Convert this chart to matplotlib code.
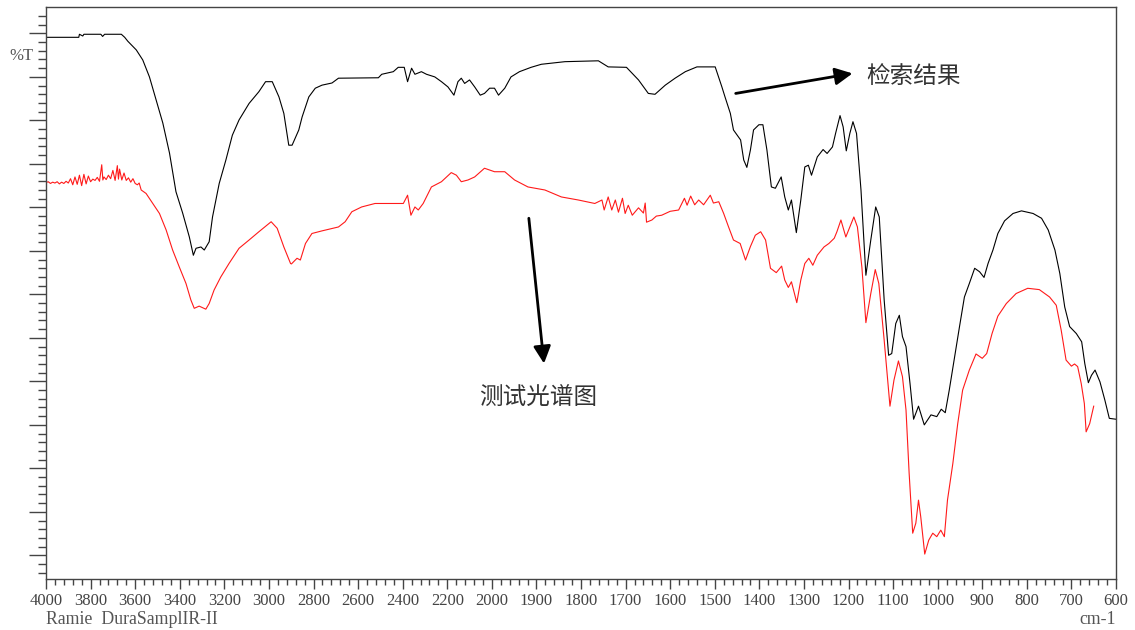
import numpy as np
import matplotlib
matplotlib.use("Agg")
import matplotlib.pyplot as plt
from matplotlib.ticker import FixedLocator, NullFormatter

# ---------------- data (wavenumber cm-1, %T-like units) ----------------
ref_wn = [3997, 3853, 3850, 3835, 3830, 3754, 3746, 3737, 3662, 3647, 3633, 3595, 3566, 3536,
          3506, 3476, 3446, 3417, 3387, 3357, 3339, 3327, 3305, 3290, 3268, 3253, 3223, 3193,
          3164, 3134, 3089, 3045, 3015, 2985, 2955, 2933, 2911, 2896, 2866, 2851, 2821, 2792,
          2762, 2717, 2688, 2509, 2494, 2442, 2420, 2393, 2378, 2360, 2345, 2316, 2293, 2256,
          2226, 2197, 2170, 2152, 2137, 2122, 2100, 2077, 2052, 2033, 2010, 1994, 1985, 1971,
          1957, 1938, 1912, 1889, 1836, 1761, 1739, 1698, 1671, 1649, 1634, 1611, 1589, 1566,
          1540, 1499, 1484, 1477, 1465, 1458, 1442, 1435, 1428, 1420, 1413, 1401, 1392, 1383,
          1373, 1364, 1351, 1343, 1335, 1328, 1317, 1307, 1298, 1290, 1283, 1270, 1257, 1248,
          1236, 1229, 1219, 1212, 1205, 1197, 1190, 1182, 1172, 1161, 1150, 1139, 1131, 1120,
          1110, 1103, 1094, 1086, 1079, 1071, 1062, 1054, 1043, 1030, 1015, 1002, 992, 983,
          974, 962, 951, 940, 929, 917, 906, 896, 887, 876, 865, 850, 831, 812, 786, 767, 752,
          737, 726, 715, 704, 689, 677, 670, 662, 655, 647, 636, 625, 615, 600]
ref_t = [119.1, 119.1, 119.8, 119.4, 119.8, 119.8, 119.3, 119.8, 119.8, 119.1, 118.2, 116.2,
         113.9, 110.0, 104.7, 99.4, 92.5, 83.6, 78.7, 73.2, 69.0, 70.6, 70.9, 70.2, 72.1, 77.8,
         85.5, 90.9, 96.6, 100.1, 103.9, 106.6, 108.9, 108.9, 105.4, 101.6, 94.3, 94.3, 97.8,
         100.8, 105.4, 107.4, 108.1, 108.6, 109.7, 109.8, 110.6, 111.2, 112.2, 112.2, 108.9,
         112.0, 110.6, 111.2, 110.6, 110.0, 108.9, 107.7, 105.8, 108.9, 109.7, 108.5, 109.3,
         107.7, 105.8, 106.2, 107.4, 107.4, 105.8, 107.4, 110.0, 111.2, 112.2, 112.9, 113.5,
         113.7, 112.3, 112.2, 109.3, 106.2, 106.0, 108.1, 109.7, 111.2, 112.3, 112.3, 107.7,
         105.4, 101.6, 97.8, 95.5, 90.9, 89.2, 93.2, 97.8, 99.0, 99.0, 93.2, 84.7, 84.4, 87.0,
         82.4, 79.4, 81.7, 74.2, 81.7, 89.3, 89.7, 87.4, 91.6, 93.3, 92.4, 93.9, 97.0, 101.1,
         98.5, 93.0, 97.0, 99.7, 97.0, 84.0, 64.4, 72.5, 80.1, 77.8, 58.7, 46.0, 46.4, 53.3,
         55.2, 50.3, 48.0, 39.5, 31.3, 34.3, 30.0, 32.3, 31.9, 33.6, 32.8, 38.0, 45.7, 52.6,
         59.4, 62.5, 66.0, 65.2, 63.9, 67.1, 70.2, 74.0, 76.9, 78.6, 79.2, 78.6, 77.5, 74.8,
         70.2, 64.8, 57.1, 52.6, 51.0, 49.1, 44.1, 39.7, 41.4, 42.6, 39.9, 35.7, 31.5, 31.3]

test_wn = [4000, 3990, 3980, 3970, 3960, 3950, 3940, 3930, 3920, 3910, 3900, 3890, 3880, 3870,
           3860, 3850, 3840, 3830, 3820, 3810, 3800, 3790, 3780, 3770, 3760, 3750, 3745, 3740,
           3730, 3720, 3710, 3700, 3690, 3680, 3675, 3670, 3660, 3650, 3640, 3630, 3620, 3610,
           3600, 3590, 3582, 3573, 3551, 3521, 3491, 3461, 3432, 3402, 3372, 3350, 3335, 3313,
           3283, 3268, 3246, 3216, 3179, 3134, 3089, 3045, 2990, 2963, 2933, 2903, 2899, 2874,
           2859, 2836, 2807, 2762, 2688, 2658, 2628, 2584, 2524, 2464, 2397, 2378, 2363, 2345,
           2330, 2308, 2271, 2226, 2182, 2159, 2137, 2107, 2077, 2033, 1994, 1971, 1949, 1919,
           1881, 1844, 1806, 1769, 1753, 1748, 1739, 1731, 1723, 1716, 1707, 1701, 1694, 1685,
           1671, 1660, 1656, 1653, 1641, 1631, 1619, 1600, 1581, 1568, 1562, 1554, 1545, 1536,
           1525, 1510, 1503, 1491, 1480, 1469, 1458, 1443, 1431, 1420, 1409, 1397, 1386, 1375,
           1362, 1350, 1343, 1335, 1328, 1316, 1307, 1298, 1289, 1280, 1270, 1255, 1244, 1232,
           1226, 1217, 1206, 1197, 1188, 1180, 1170, 1161, 1150, 1140, 1132, 1120, 1107, 1098,
           1088, 1079, 1071, 1064, 1056, 1049, 1043, 1038, 1029, 1020, 1011, 1002, 993, 985,
           978, 966, 955, 944, 929, 914, 900, 890, 878, 865, 846, 824, 798, 772, 749, 734, 723,
           712, 700, 693, 686, 678, 671, 667, 659, 650]
test_t = [85.7, 85.9, 85.5, 85.8, 85.6, 85.9, 85.4, 85.8, 85.5, 86.0, 85.6, 86.6, 85.2, 87.0,
          85.3, 87.4, 85.0, 87.6, 85.4, 87.2, 85.9, 86.5, 86.2, 86.9, 86.0, 89.8, 86.3, 87.0,
          86.4, 87.4, 86.6, 88.5, 86.2, 89.6, 86.5, 88.8, 86.3, 87.9, 86.2, 86.8, 85.8, 86.6,
          85.5, 85.2, 85.6, 84.0, 83.2, 80.9, 78.6, 74.8, 70.2, 66.3, 62.5, 58.7, 56.8, 57.3,
          56.6, 57.9, 61.0, 64.0, 67.1, 70.6, 72.5, 74.4, 76.7, 75.2, 70.9, 67.1, 67.0, 68.3,
          67.9, 71.7, 74.0, 74.6, 75.5, 76.7, 79.0, 80.1, 80.9, 80.9, 80.9, 82.8, 78.2, 80.1,
          79.4, 80.9, 84.7, 85.9, 88.0, 87.4, 85.9, 86.3, 87.0, 89.0, 88.2, 88.2, 86.3, 84.7,
          84.0, 82.4, 81.7, 80.9, 81.7, 79.4, 82.4, 79.4, 81.7, 78.9, 82.1, 78.6, 80.5, 78.2,
          79.9, 78.7, 81.0, 76.6, 77.1, 78.0, 78.2, 79.1, 79.4, 82.1, 80.5, 82.6, 80.6, 81.7,
          80.6, 82.8, 81.0, 81.3, 78.6, 75.5, 72.5, 71.7, 67.9, 71.0, 73.6, 74.4, 72.5, 66.0,
          65.0, 66.5, 63.3, 61.6, 62.9, 58.1, 63.3, 67.1, 68.3, 66.7, 69.0, 70.9, 71.7, 72.9,
          74.4, 77.1, 73.2, 75.5, 77.8, 75.5, 66.3, 53.5, 60.2, 65.7, 62.5, 49.5, 34.3, 40.3,
          44.7, 41.1, 33.4, 18.9, 5.1, 7.4, 12.7, 8.9, 0.3, 3.5, 5.1, 4.3, 5.8, 4.3,
          12.7, 21.1, 30.3, 38.0, 42.6, 46.3, 45.3, 46.4, 51.0, 55.0, 57.9, 60.2, 61.4, 61.1,
          59.4, 57.5, 51.8, 44.9, 43.5, 44.0, 43.4, 39.5, 34.9, 28.4, 30.3, 34.3]

x_major = [4000, 3800, 3600, 3400, 3200, 3000, 2800, 2600, 2400, 2200, 2000, 1900, 1800,
           1700, 1600, 1500, 1400, 1300, 1200, 1100, 1000, 900, 800, 700, 600]
x_labels = [str(v) for v in x_major]

label_ref = "检索结果"
label_test = "测试光谱图"

# ---------------- figure ----------------
W, H = 1135, 630
fig = plt.figure(figsize=(W / 100, H / 100), dpi=100)
ax = fig.add_axes([46 / W, (H - 579.3) / H, (1116 - 46) / W, (579.3 - 7.3) / H])


def fwd(x):
    x = np.asarray(x, dtype=float)
    return np.where(x > 2000, 2000 + (x - 2000) / 2.0, x)


def inv(y):
    y = np.asarray(y, dtype=float)
    return np.where(y > 2000, 2000 + 2.0 * (y - 2000), y)


ax.set_xscale('function', functions=(fwd, inv))

ax.plot(ref_wn, ref_t, color='black', lw=0.8)
ax.plot(test_wn, test_t, color='#ff1a1a', lw=0.8)

ax.set_xlim(4000, 600)
ax.set_ylim(-5.5, 126)

# x ticks
minor_x = list(range(4000, 2000, -40)) + list(range(2000, 599, -20))
ax.xaxis.set_major_locator(FixedLocator(x_major))
ax.xaxis.set_minor_locator(FixedLocator(minor_x))
ax.set_xticklabels(x_labels)
ax.xaxis.set_minor_formatter(NullFormatter())
ax.tick_params(axis='x', which='major', direction='out', length=7.2, width=1.0,
               color='#444444', pad=3, labelsize=12, labelcolor='#444444')
ax.tick_params(axis='x', which='minor', direction='out', length=4.6, width=1.0, color='#444444')
for lab in ax.get_xticklabels():
    lab.set_family('Liberation Serif')

# y ticks (no labels)
ax.yaxis.set_major_locator(FixedLocator(list(range(0, 121, 10))))
ax.yaxis.set_minor_locator(FixedLocator([v for v in range(-4, 126, 2) if v % 10 != 0]))
ax.yaxis.set_major_formatter(NullFormatter())
ax.yaxis.set_minor_formatter(NullFormatter())
ax.tick_params(axis='y', which='major', direction='out', length=12.2, width=1.0, color='#444444')
ax.tick_params(axis='y', which='minor', direction='out', length=5.8, width=1.0, color='#444444')

for s in ax.spines.values():
    s.set_color('#444444')
    s.set_linewidth(1.0)

# annotations
cjk = ['Noto Sans CJK SC', 'DejaVu Sans']
ax.annotate('', xy=(1191, 110.8), xytext=(1453, 106.2),
            arrowprops=dict(arrowstyle='-|>', lw=2.0, color='black', mutation_scale=26,
                            shrinkA=0, shrinkB=0))
ax.text(1161, 110.2, label_ref, family=cjk, fontsize=17, color='#333333',
        ha='left', va='center')
ax.annotate('', xy=(1883, 44.1), xytext=(1917, 77.5),
            arrowprops=dict(arrowstyle='-|>', lw=2.0, color='black', mutation_scale=26,
                            shrinkA=0, shrinkB=0))
ax.text(2055, 36.2, label_test, family=cjk, fontsize=17, color='#333333',
        ha='left', va='center')

# side texts
fig.text(9 / W, 1 - 56 / H, '%T', family='Liberation Serif', fontsize=12, color='#555555',
         ha='left', va='center')
fig.text(46 / W, 1 - 619 / H, 'Ramie  DuraSamplIR-II', family='Liberation Serif', fontsize=12.8,
         color='#555555', ha='left', va='center')
fig.text(1116 / W, 1 - 619 / H, 'cm-1', family='Liberation Serif', fontsize=12.8,
         color='#555555', ha='right', va='center')

fig.savefig('out.png', dpi=100)
